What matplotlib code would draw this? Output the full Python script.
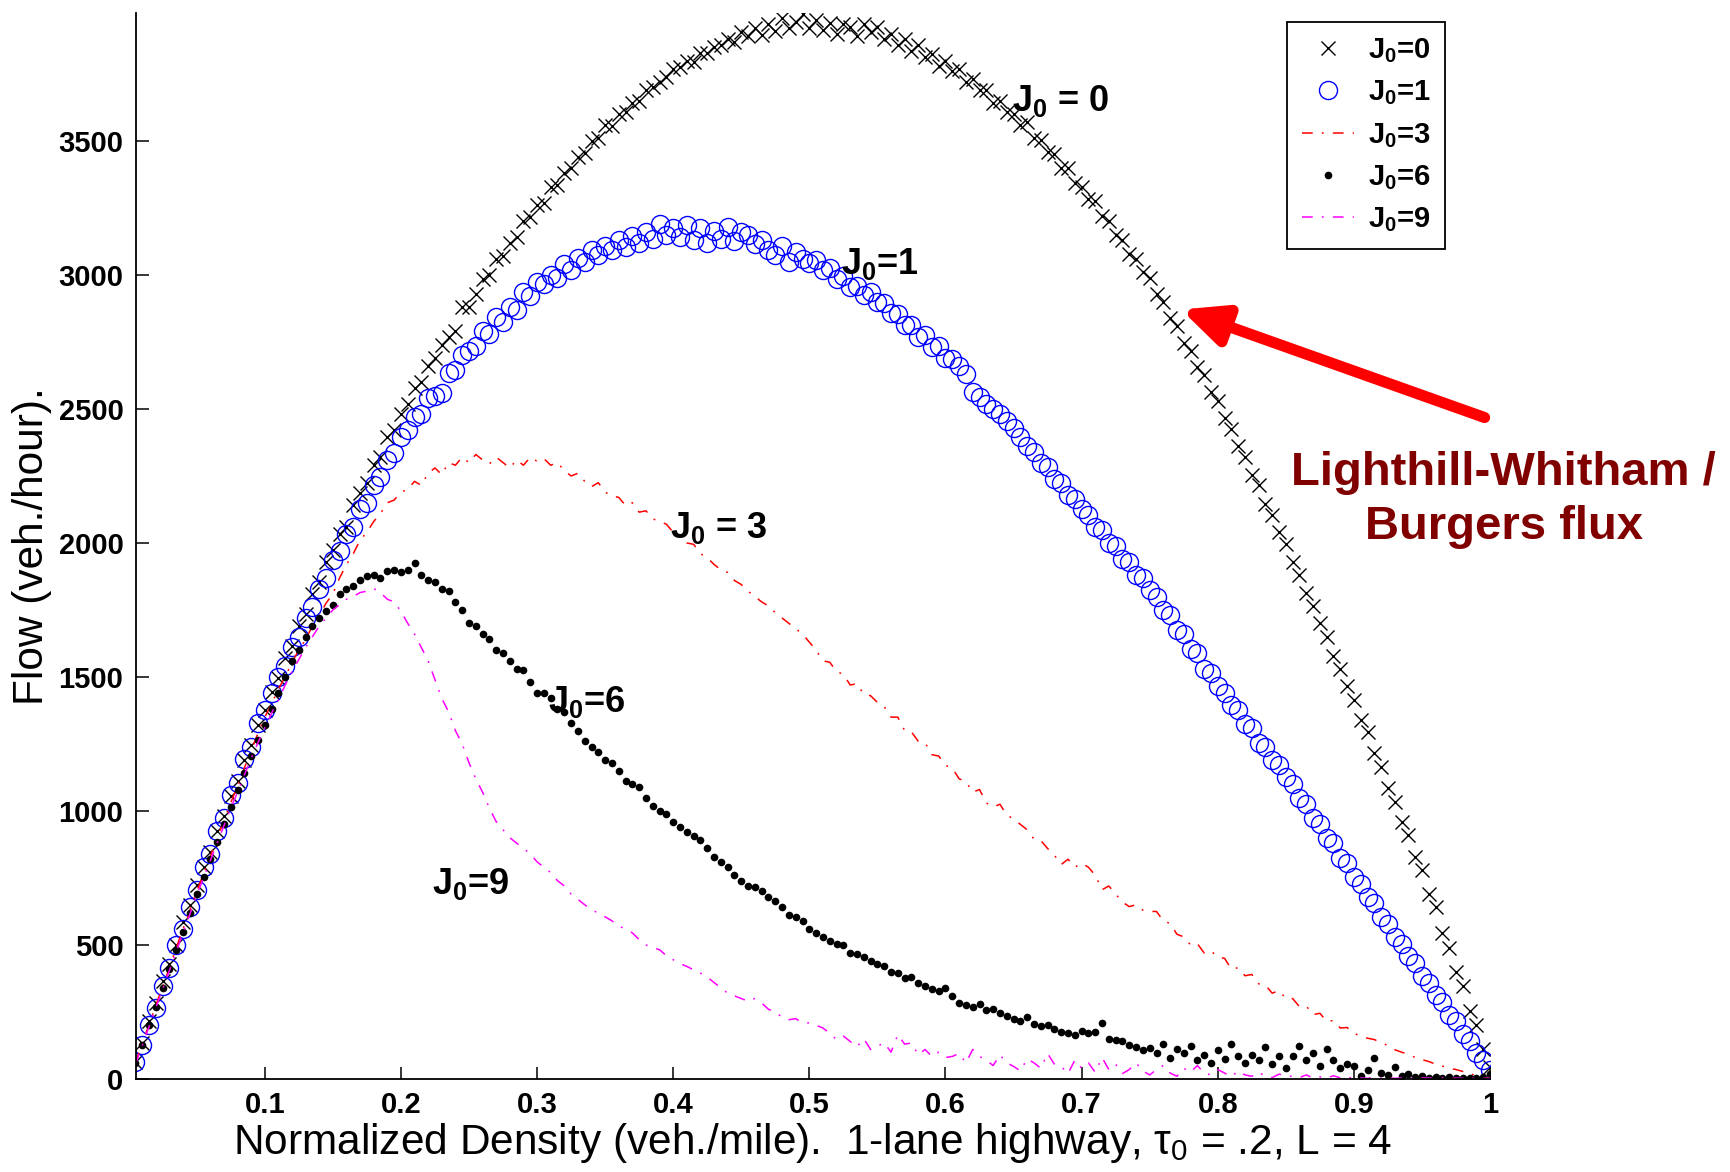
import numpy as np
import matplotlib
matplotlib.use('Agg')
import matplotlib.pyplot as plt

plt.rcParams['font.family'] = ['Liberation Sans', 'DejaVu Sans']
plt.rcParams['mathtext.fontset'] = 'custom'
plt.rcParams['mathtext.rm'] = 'Liberation Sans'
plt.rcParams['mathtext.it'] = 'Liberation Sans:italic'
plt.rcParams['mathtext.bf'] = 'Liberation Sans:bold'
plt.rcParams['mathtext.default'] = 'regular'

# normalized density grid (0.005 ... 1.0)
density = np.round(np.arange(1, 201) * 0.005, 3)

flow_j0 = [
    62, 135, 215, 285, 365, 430, 500, 585, 648, 722,
    790, 848, 925, 980, 1055, 1110, 1190, 1245, 1320, 1375,
    1445, 1495, 1570, 1615, 1690, 1735, 1810, 1855, 1930, 1975,
    2035, 2060, 2140, 2185, 2225, 2290, 2320, 2395, 2420, 2480,
    2520, 2580, 2600, 2660, 2690, 2740, 2770, 2790, 2880, 2880,
    2930, 2985, 3000, 3060, 3070, 3120, 3140, 3200, 3215, 3260,
    3270, 3330, 3335, 3380, 3400, 3440, 3455, 3500, 3510, 3560,
    3555, 3600, 3610, 3640, 3650, 3690, 3700, 3720, 3740, 3770,
    3775, 3800, 3795, 3830, 3830, 3850, 3860, 3880, 3870, 3905,
    3890, 3920, 3895, 3935, 3910, 3960, 3920, 3945, 3975, 3920,
    3950, 3915, 3940, 3900, 3935, 3925, 3890, 3935, 3905, 3925,
    3880, 3900, 3860, 3880, 3835, 3860, 3815, 3825, 3780, 3800,
    3760, 3770, 3720, 3730, 3690, 3690, 3640, 3650, 3610, 3600,
    3560, 3570, 3510, 3505, 3460, 3450, 3400, 3400, 3345, 3330,
    3285, 3275, 3220, 3200, 3150, 3130, 3080, 3060, 3010, 2990,
    2930, 2900, 2840, 2810, 2745, 2715, 2655, 2625, 2565, 2530,
    2465, 2425, 2360, 2320, 2255, 2215, 2145, 2105, 2040, 1995,
    1930, 1880, 1815, 1765, 1700, 1650, 1580, 1530, 1465, 1415,
    1340, 1295, 1215, 1165, 1085, 1035, 960, 910, 830, 780,
    690, 640, 545, 490, 400, 345, 255, 200, 110, 45,
]

flow_j1 = [
    64, 128, 200, 265, 345, 415, 500, 560, 640, 705,
    790, 840, 925, 975, 1060, 1105, 1195, 1240, 1330, 1375,
    1440, 1500, 1540, 1610, 1650, 1720, 1760, 1830, 1870, 1935,
    1970, 2035, 2060, 2125, 2150, 2215, 2245, 2310, 2335, 2395,
    2420, 2470, 2480, 2540, 2550, 2560, 2635, 2645, 2700, 2715,
    2735, 2790, 2780, 2845, 2825, 2880, 2870, 2935, 2920, 2975,
    2965, 3000, 2990, 3040, 3020, 3065, 3050, 3095, 3075, 3110,
    3095, 3130, 3105, 3145, 3120, 3160, 3135, 3190, 3150, 3175,
    3140, 3185, 3130, 3175, 3120, 3165, 3135, 3180, 3125, 3160,
    3150, 3115, 3130, 3095, 3075, 3110, 3050, 3085, 3060, 3045,
    3055, 3020, 3025, 2985, 2995, 2955, 2960, 2925, 2935, 2900,
    2895, 2860, 2855, 2815, 2815, 2770, 2775, 2730, 2735, 2690,
    2685, 2660, 2630, 2565, 2545, 2520, 2500, 2480, 2455, 2430,
    2395, 2360, 2340, 2300, 2285, 2240, 2225, 2180, 2165, 2125,
    2105, 2060, 2050, 2000, 1990, 1940, 1930, 1880, 1870, 1825,
    1800, 1750, 1730, 1675, 1660, 1605, 1590, 1530, 1515, 1465,
    1440, 1395, 1375, 1325, 1310, 1255, 1240, 1190, 1170, 1125,
    1100, 1050, 1025, 975, 950, 900, 880, 825, 805, 755,
    728, 680, 655, 605, 580, 530, 505, 458, 432, 385,
    358, 312, 288, 240, 215, 168, 142, 96, 70, 32,
]

flow_j3 = [
    60, 132, 205, 275, 345, 415, 490, 560, 630, 700,
    765, 830, 900, 965, 1030, 1095, 1160, 1225, 1290, 1350,
    1400, 1455, 1500, 1555, 1600, 1640, 1690, 1730, 1775, 1810,
    1870, 1920, 1960, 2010, 2040, 2080, 2110, 2150, 2160, 2190,
    2200, 2230, 2215, 2260, 2280, 2255, 2300, 2290, 2320, 2300,
    2330, 2310, 2295, 2320, 2300, 2280, 2310, 2290, 2320, 2305,
    2315, 2290, 2300, 2270, 2250, 2260, 2230, 2210, 2225, 2190,
    2175, 2170, 2140, 2150, 2115, 2120, 2090, 2080, 2070, 2040,
    2030, 2000, 1995, 1960, 1945, 1920, 1900, 1890, 1860, 1845,
    1820, 1800, 1780, 1765, 1740, 1720, 1700, 1680, 1660, 1630,
    1600, 1560, 1555, 1520, 1510, 1470, 1475, 1435, 1430, 1405,
    1390, 1350, 1350, 1300, 1295, 1260, 1255, 1210, 1205, 1170,
    1160, 1120, 1110, 1070, 1080, 1030, 1015, 1025, 985, 970,
    950, 930, 895, 890, 860, 835, 800, 820, 790, 805,
    790, 760, 706, 720, 690, 660, 643, 650, 630, 625,
    625, 590, 580, 540, 530, 500, 505, 470, 478, 455,
    450, 410, 415, 385, 390, 355, 350, 320, 330, 300,
    300, 270, 272, 240, 245, 215, 218, 190, 192, 170,
    160, 152, 147, 135, 125, 109, 100, 92, 80, 72,
    65, 55, 48, 40, 35, 28, 20, 12, 8, 5,
]

flow_j6 = [
    58, 128, 200, 270, 340, 410, 480, 550, 620, 690,
    755, 820, 885, 950, 1015, 1080, 1140, 1205, 1265, 1320,
    1380, 1440, 1500, 1560, 1600, 1650, 1690, 1720, 1745, 1770,
    1810, 1830, 1840, 1860, 1875, 1880, 1870, 1895, 1900, 1890,
    1900, 1925, 1880, 1860, 1855, 1830, 1820, 1780, 1750, 1700,
    1690, 1660, 1640, 1600, 1590, 1560, 1530, 1525, 1480, 1440,
    1440, 1420, 1380, 1370, 1330, 1300, 1260, 1240, 1220, 1190,
    1180, 1150, 1110, 1100, 1090, 1050, 1020, 1000, 990, 960,
    940, 920, 905, 890, 860, 830, 810, 790, 760, 740,
    720, 715, 700, 680, 665, 640, 610, 605, 590, 560,
    545, 530, 515, 505, 500, 470, 465, 455, 440, 430,
    420, 400, 395, 375, 380, 358, 345, 335, 330, 340,
    310, 285, 275, 270, 280, 258, 260, 245, 235, 222,
    215, 230, 205, 196, 200, 185, 175, 171, 165, 180,
    171, 175, 210, 150, 147, 140, 125, 118, 109, 115,
    97, 130, 80, 110, 95, 122, 72, 90, 60, 109,
    75, 130, 85, 60, 90, 72, 120, 55, 84, 40,
    84, 122, 72, 95, 50, 110, 72, 40, 55, 47,
    10, 35, 80, 22, 15, 45, 10, 20, 8, 12,
    4, 8, 3, 6, 2, 5, 3, 4, 6, 20,
]

flow_j9 = [
    55, 125, 195, 265, 335, 405, 475, 545, 615, 685,
    750, 815, 880, 945, 1010, 1070, 1135, 1195, 1255, 1310,
    1365, 1415, 1470, 1520, 1565, 1610, 1650, 1690, 1720, 1750,
    1770, 1790, 1800, 1815, 1820, 1830, 1815, 1790, 1780, 1745,
    1700, 1660, 1610, 1560, 1490, 1420, 1370, 1300, 1250, 1180,
    1120, 1070, 1010, 960, 930, 900, 880, 860, 840, 810,
    790, 770, 740, 720, 690, 670, 650, 630, 620, 605,
    590, 570, 560, 545, 520, 500, 490, 482, 460, 445,
    430, 420, 407, 395, 380, 360, 340, 320, 310, 300,
    290, 300, 283, 260, 250, 230, 221, 225, 210, 209,
    200, 190, 170, 147, 160, 140, 120, 150, 110, 122,
    135, 100, 165, 130, 134, 90, 110, 84, 100, 80,
    84, 95, 60, 110, 84, 70, 50, 90, 60, 47,
    30, 75, 60, 40, 95, 55, 47, 20, 70, 40,
    60, 25, 80, 35, 55, 20, 35, 60, 30, 15,
    35, 50, 22, 10, 40, 25, 50, 22, 15, 35,
    22, 8, 30, 15, 10, 25, 10, 5, 18, 10,
    10, 5, 15, 4, 8, 3, 12, 4, 6, 3,
    4, 2, 6, 3, 5, 2, 4, 3, 2, 4,
    3, 2, 4, 2, 3, 2, 3, 2, 2, 3,
]

x_ticks = [0.1, 0.2, 0.3, 0.4, 0.5, 0.6, 0.7, 0.8, 0.9, 1.0]
x_tick_labels = ['0.1', '0.2', '0.3', '0.4', '0.5', '0.6', '0.7', '0.8', '0.9', '1']
y_ticks = [0, 500, 1000, 1500, 2000, 2500, 3000, 3500]

fig = plt.figure(figsize=(17.30, 11.72), dpi=100)
ax = fig.add_axes([0.0786, 0.0794, 0.7827, 0.9096])

dashdot = (0, (7, 6, 1.2, 6))

ax.plot(density, flow_j0, linestyle='none', marker='x', ms=10, mew=1.0,
        color='black', label=r'J$_{\mathbf{0}}$=0')
ax.plot(density, flow_j1, linestyle='none', marker='o', ms=13, mew=1.0,
        mfc='none', mec='#0000ff', label=r'J$_{\mathbf{0}}$=1')
ax.plot(density, flow_j3, linestyle=dashdot, lw=1.1, color='red',
        label=r'J$_{\mathbf{0}}$=3')
ax.plot(density, flow_j6, linestyle='none', marker='o', ms=5.5, mew=0,
        color='black', label=r'J$_{\mathbf{0}}$=6')
ax.plot(density, flow_j9, linestyle=dashdot, lw=1.1, color='magenta',
        label=r'J$_{\mathbf{0}}$=9')

ax.set_xlim(0.0054, 1.0)
ax.set_ylim(0, 3978)
ax.set_xticks(x_ticks)
ax.set_xticklabels(x_tick_labels)
ax.set_yticks(y_ticks)

for side in ['top', 'right']:
    ax.spines[side].set_visible(False)
for side in ['left', 'bottom']:
    ax.spines[side].set_linewidth(1.3)
ax.tick_params(direction='in', length=9, width=1.1, labelsize=21, pad=9)
for lab in ax.get_xticklabels() + ax.get_yticklabels():
    lab.set_fontweight('bold')

ax.set_xlabel('Normalized Density (veh./mile).  1-lane highway, \u03c4$_0$ = .2, L = 4',
              fontsize=30.5, labelpad=1)
ax.set_ylabel('Flow (veh./hour).', fontsize=30.5, labelpad=5)

# curve labels
ax.text(0.649, 3612, r'J$_{\mathbf{0}}$ = 0', fontsize=26, fontweight='bold')
ax.text(0.523, 3003, r'J$_{\mathbf{0}}$=1', fontsize=26, fontweight='bold')
ax.text(0.398, 2020, r'J$_{\mathbf{0}}$ = 3', fontsize=26, fontweight='bold')
ax.text(0.308, 1370, r'J$_{\mathbf{0}}$=6', fontsize=26, fontweight='bold')
ax.text(0.223, 691, r'J$_{\mathbf{0}}$=9', fontsize=26, fontweight='bold')

# arrow + flux note
ax.annotate('', xy=(0.773, 2871), xytext=(0.996, 2468),
            arrowprops=dict(arrowstyle='-|>,head_length=1.3,head_width=0.6',
                            lw=8, color='red', shrinkA=0, shrinkB=0,
                            mutation_scale=20))
ax.text(1.010, 2160, 'Lighthill-Whitham /\nBurgers flux', fontsize=34,
        fontweight='bold', color='#800000', ha='center', va='center',
        linespacing=1.3, clip_on=False)

leg = ax.legend(loc='upper right', bbox_to_anchor=(0.9668, 0.9916),
                borderaxespad=0, prop={'weight': 'bold', 'size': 21},
                fancybox=False, framealpha=1, edgecolor='black',
                handlelength=1.8, handletextpad=0.45, labelspacing=0.46,
                borderpad=0.5)
leg.get_frame().set_linewidth(1.3)

fig.savefig('out.png', dpi=100)
